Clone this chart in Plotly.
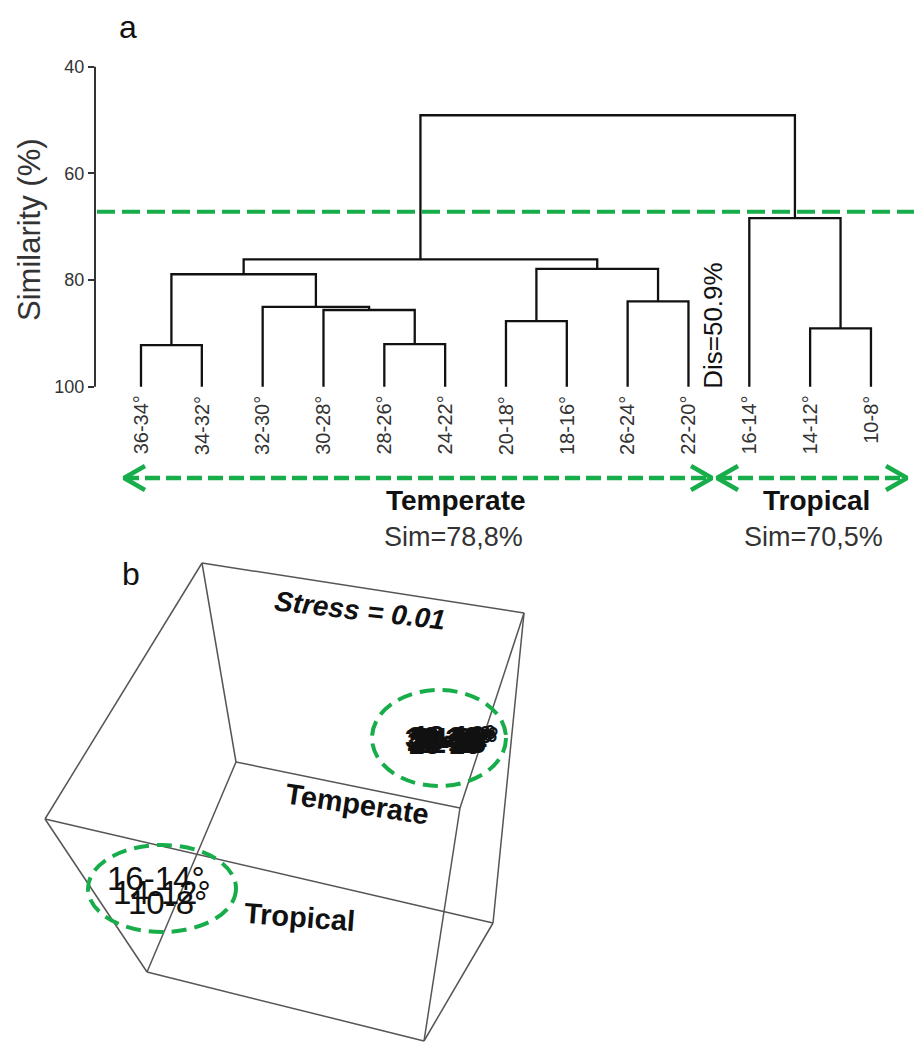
import plotly.graph_objects as go

FIG_W, FIG_H = 914, 1042
FONT = "Liberation Sans, Arial, sans-serif"
GREEN = "#17ad4a"
INK = "#111111"
GREY_TXT = "#333333"
BOX_GREY = "#555555"

# ---------------- panel a: cluster dendrogram ----------------
leaf_labels = ["36-34°", "34-32°", "32-30°", "30-28°", "28-26°", "24-22°",
               "20-18°", "18-16°", "26-24°", "22-20°", "16-14°", "14-12°", "10-8°"]
# agglomeration steps; ids >= len(leaf_labels) refer to earlier steps
merge_left = [0, 4, 3, 2, 13, 6, 8, 18, 17, 11, 10, 21]
merge_right = [1, 5, 14, 15, 16, 7, 9, 19, 20, 12, 22, 23]
merge_similarity = [92.2, 92.0, 85.6, 85.0, 78.9, 87.7, 84.0, 77.9, 76.1, 89.05, 68.4, 49.1]
cut_similarity = 67.2
similarity_ticks = [40, 60, 80, 100]
dissimilarity_text = "Dis=50.9%"
group_names = ["Temperate", "Tropical"]
group_sim_text = ["Sim=78,8%", "Sim=70,5%"]

# ---------------- panel b: nMDS ordination ----------------
nmds_sites = leaf_labels
nmds_x = [446, 452, 449, 455, 450, 457, 448, 454, 451, 456, 156, 162, 167]
nmds_y = [738, 742, 736, 740, 744, 737, 741, 735, 739, 743, 878, 892, 902]
stress_text = "Stress = 0.01"
# projected frame of the 3-D ordination box
box_x = [202, 524, 236, 45, 460, 493, 424, 147]
box_y = [563, 613, 762, 819, 808, 923, 1041, 972]
box_edges = [(0, 1), (0, 3), (0, 2), (1, 4), (1, 5), (2, 4), (2, 7),
             (3, 5), (3, 7), (4, 6), (5, 6), (7, 6)]

# ---------------- geometry of panel a ----------------
A_Y40_PX = 66.7        # pixel row of similarity 40
A_PX_PER_UNIT = 5.335  # pixels per similarity unit
A_LEAF0_PX = 141.0
A_LEAF_STEP = 60.83
A_AXIS_PX = 95.0
A_BOTTOM_PX = 560.0


def ax_x(px):
    return (px - A_LEAF0_PX) / A_LEAF_STEP


def ax_y(py):
    return 40 + (py - A_Y40_PX) / A_PX_PER_UNIT


fig = go.Figure()

# dendrogram branches
n_leaf = len(leaf_labels)
pos = {i: float(i) for i in range(n_leaf)}
hgt = {i: 100.0 for i in range(n_leaf)}
dx, dy = [], []
for k, (l, r, s) in enumerate(zip(merge_left, merge_right, merge_similarity)):
    dx += [pos[l], pos[l], pos[r], pos[r], None]
    dy += [hgt[l], s, s, hgt[r], None]
    pos[n_leaf + k] = (pos[l] + pos[r]) / 2
    hgt[n_leaf + k] = s
fig.add_trace(go.Scatter(x=dx, y=dy, mode="lines",
                         line=dict(color=INK, width=2.3), hoverinfo="skip"))

# cut line
x_lo, x_hi = ax_x(A_AXIS_PX), ax_x(FIG_W)
fig.add_trace(go.Scatter(x=[ax_x(A_AXIS_PX + 2), x_hi], y=[cut_similarity, cut_similarity],
                         mode="lines", line=dict(color=GREEN, width=4, dash="18px,7px"),
                         hoverinfo="skip"))

# group arrows below the leaves
arrow_span_px = [(124, 712), (717, 907)]
arrow_y_px = 478
arm_dx, arm_dy = 21, 12
for (a, b) in arrow_span_px:
    fig.add_trace(go.Scatter(x=[ax_x(a), ax_x(b)], y=[ax_y(arrow_y_px)] * 2, mode="lines",
                             line=dict(color=GREEN, width=4.5, dash="15px,6px"),
                             hoverinfo="skip"))
    for tip, sgn in ((a, 1), (b, -1)):
        fig.add_trace(go.Scatter(
            x=[ax_x(tip + sgn * arm_dx), ax_x(tip), ax_x(tip + sgn * arm_dx)],
            y=[ax_y(arrow_y_px - arm_dy), ax_y(arrow_y_px), ax_y(arrow_y_px + arm_dy)],
            mode="lines", line=dict(color=GREEN, width=4.5), hoverinfo="skip"))

# ---------------- panel b frame and labels ----------------
bx, by = [], []
for (i, j) in box_edges:
    bx += [box_x[i], box_x[j], None]
    by += [box_y[i], box_y[j], None]
fig.add_trace(go.Scatter(x=bx, y=by, mode="lines", xaxis="x2", yaxis="y2",
                         line=dict(color=BOX_GREY, width=1.5), hoverinfo="skip"))

annotations = []
for i, lab in enumerate(leaf_labels):
    annotations.append(dict(x=i, y=100, xref="x", yref="y", text=lab, showarrow=False,
                            textangle=-90, xanchor="center", yanchor="top", yshift=-7,
                            font=dict(family=FONT, size=20, color=GREY_TXT)))

annotations.append(dict(x=ax_x(713), y=100, xref="x", yref="y", text=dissimilarity_text,
                        showarrow=False, textangle=-90, xanchor="center", yanchor="bottom",
                        yshift=-4, font=dict(family=FONT, size=26, color=INK)))

for name, sim, cx, scx in zip(group_names, group_sim_text, (456, 816), (453, 813)):
    annotations.append(dict(x=cx, y=500, xref="x2", yref="y2", text="<b>%s</b>" % name,
                            showarrow=False, xanchor="center", yanchor="middle",
                            font=dict(family=FONT, size=28, color=INK)))
    annotations.append(dict(x=scx, y=537, xref="x2", yref="y2", text=sim,
                            showarrow=False, xanchor="center", yanchor="middle",
                            font=dict(family=FONT, size=27, color=GREY_TXT)))

annotations.append(dict(x=29, y=230, xref="x2", yref="y2", text="Similarity (%)",
                        showarrow=False, textangle=-90, xanchor="center", yanchor="middle",
                        font=dict(family=FONT, size=31, color=GREY_TXT)))
annotations.append(dict(x=128, y=27, xref="x2", yref="y2", text="a", showarrow=False,
                        xanchor="center", yanchor="middle",
                        font=dict(family=FONT, size=32, color=INK)))
annotations.append(dict(x=131, y=574, xref="x2", yref="y2", text="b", showarrow=False,
                        xanchor="center", yanchor="middle",
                        font=dict(family=FONT, size=32, color=INK)))

annotations.append(dict(x=360, y=610, xref="x2", yref="y2", text="<b><i>%s</i></b>" % stress_text,
                        showarrow=False, textangle=6.5, xanchor="center", yanchor="middle",
                        font=dict(family=FONT, size=28, color=INK)))
annotations.append(dict(x=357, y=804, xref="x2", yref="y2", text="<b>Temperate</b>",
                        showarrow=False, textangle=8.4, xanchor="center", yanchor="middle",
                        font=dict(family=FONT, size=29, color=INK)))
annotations.append(dict(x=299, y=917, xref="x2", yref="y2", text="<b>Tropical</b>",
                        showarrow=False, textangle=4.3, xanchor="center", yanchor="middle",
                        font=dict(family=FONT, size=29, color=INK)))

for i, lab in enumerate(nmds_sites):
    temperate = i < 10
    annotations.append(dict(x=nmds_x[i], y=nmds_y[i], xref="x2", yref="y2",
                            text="<b>%s</b>" % lab if temperate else lab,
                            showarrow=False, xanchor="center", yanchor="middle",
                            font=dict(family=FONT, size=28 if temperate else 33, color=INK)))

shapes = [
    # similarity axis line (40-100)
    dict(type="line", xref="paper", yref="y", x0=A_AXIS_PX / FIG_W, x1=A_AXIS_PX / FIG_W,
         y0=40, y1=100, line=dict(color=GREY_TXT, width=2)),
    dict(type="circle", xref="x2", yref="y2", x0=372, x1=506, y0=690, y1=786,
         line=dict(color=GREEN, width=4, dash="15px,8px")),
    dict(type="circle", xref="x2", yref="y2", x0=88, x1=236, y0=845, y1=932,
         line=dict(color=GREEN, width=4, dash="15px,8px")),
]

fig.update_layout(
    width=FIG_W, height=FIG_H,
    margin=dict(l=0, r=0, t=0, b=0),
    paper_bgcolor="white", plot_bgcolor="rgba(0,0,0,0)",
    showlegend=False,
    xaxis=dict(domain=[A_AXIS_PX / FIG_W, 1], range=[x_lo, x_hi], visible=False,
               fixedrange=True),
    yaxis=dict(domain=[1 - A_BOTTOM_PX / FIG_H, 1], range=[ax_y(A_BOTTOM_PX), ax_y(0)],
               tickvals=similarity_ticks, ticks="outside", ticklen=6, tickwidth=2,
               tickcolor=GREY_TXT, showline=False, showgrid=False, zeroline=False,
               tickfont=dict(family=FONT, size=18, color=GREY_TXT), fixedrange=True),
    xaxis2=dict(domain=[0, 1], range=[0, FIG_W], visible=False, anchor="y2", fixedrange=True),
    yaxis2=dict(domain=[0, 1], range=[FIG_H, 0], visible=False, anchor="x2", fixedrange=True),
    annotations=annotations,
    shapes=shapes,
)

fig.write_html("out.html")
